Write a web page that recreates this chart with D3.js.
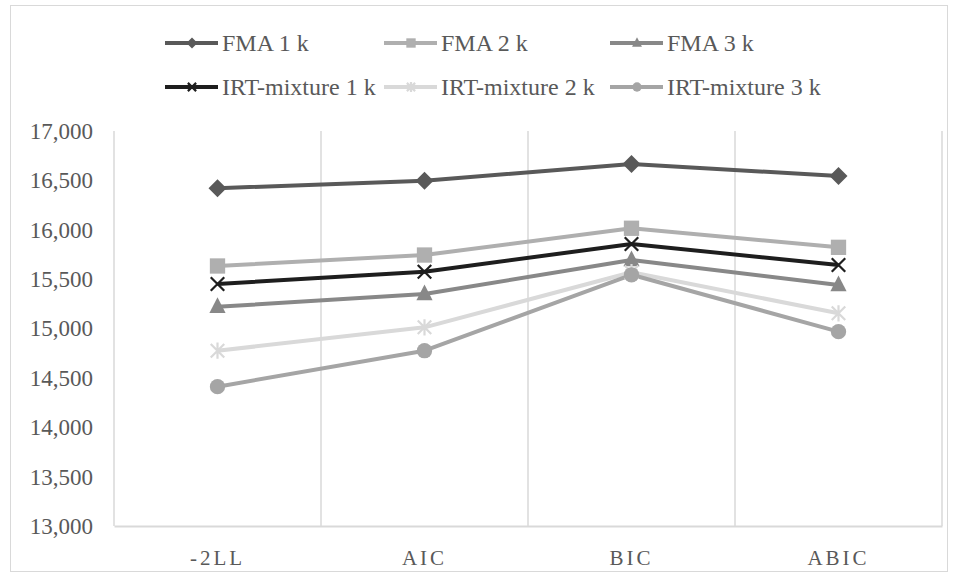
<!DOCTYPE html>
<html><head><meta charset="utf-8">
<script src="https://cdn.jsdelivr.net/npm/d3@7"></script>
<style>body{margin:0;background:#fff}</style>
</head><body>
<svg id="c" width="958" height="577"></svg>
<script>
const categories = ["-2LL","AIC","BIC","ABIC"];
const seriesNames = ["FMA 1 k","FMA 2 k","FMA 3 k","IRT-mixture 1 k","IRT-mixture 2 k","IRT-mixture 3 k"];
const fma1 = [16420,16497,16666,16544];
const fma2 = [15633,15744,16015,15822];
const fma3 = [15220,15349,15694,15440];
const irt1 = [15451,15575,15856,15643];
const irt2 = [14775,15012,15570,15154];
const irt3 = [14411,14775,15544,14968];
const yTicks = [13000,13500,14000,14500,15000,15500,16000,16500,17000];

const series = [
  {name:seriesNames[0], values:fma1, color:"#595959", marker:"diamond"},
  {name:seriesNames[1], values:fma2, color:"#afafaf", marker:"square"},
  {name:seriesNames[2], values:fma3, color:"#888888", marker:"triangle"},
  {name:seriesNames[3], values:irt1, color:"#1e1e1e", marker:"x"},
  {name:seriesNames[4], values:irt2, color:"#d9d9d9", marker:"star"},
  {name:seriesNames[5], values:irt3, color:"#a5a5a5", marker:"circle"}
];

const FONT = '"Liberation Serif"';
const svg = d3.select("#c");
svg.append("rect").attr("x",10.5).attr("y",5.5).attr("width",937).attr("height",566)
  .attr("fill","#fff").attr("stroke","#d9d9d9").attr("stroke-width",1);

const L=114, R=942, T=131, B=526;
const x = d3.scaleBand().domain(categories).range([L,R]);
const y = d3.scaleLinear().domain([13000,17000]).range([B,T]);

const bounds = categories.map(c=>x(c)).concat([R]);
svg.append("g").selectAll("line").data(bounds).join("line")
  .attr("x1",d=>d).attr("x2",d=>d).attr("y1",T).attr("y2",B)
  .attr("stroke","#d9d9d9").attr("stroke-width",1.5);

const xAxis = svg.append("g").attr("transform",`translate(0,${B})`)
  .call(d3.axisBottom(x).tickSize(0).tickPadding(0));
xAxis.select(".domain").attr("stroke","#d9d9d9").attr("stroke-width",2);
xAxis.selectAll("text").attr("y",24).style("font-family",FONT).style("font-size","21px")
  .style("letter-spacing","3px").attr("fill","#595959");

const yAxis = svg.append("g").attr("transform",`translate(${L},0)`)
  .call(d3.axisLeft(y).tickValues(yTicks).tickSize(0).tickPadding(21).tickFormat(d3.format(",")));
yAxis.select(".domain").remove();
yAxis.selectAll("text").style("font-family",FONT).style("font-size","23px").attr("fill","#595959");

function drawMarker(g, type, color, s){
  if(type==="diamond"){
    g.append("path").attr("d",`M0,${-s}L${s},0L0,${s}L${-s},0Z`).attr("fill",color);
  } else if(type==="square"){
    g.append("rect").attr("x",-s*0.85).attr("y",-s*0.85).attr("width",s*1.7).attr("height",s*1.7).attr("fill",color);
  } else if(type==="triangle"){
    g.append("path").attr("d",`M0,${-s*1.05}L${s*0.9},${s*0.7}L${-s*0.9},${s*0.7}Z`).attr("fill",color);
  } else if(type==="circle"){
    g.append("circle").attr("r",s*0.85).attr("fill",color);
  } else if(type==="x"){
    const k=s*0.75;
    g.append("path").attr("d",`M${-k},${-k}L${k},${k}M${-k},${k}L${k},${-k}`)
      .attr("stroke",color).attr("stroke-width",2.2).attr("fill","none");
  } else if(type==="star"){
    const k=s*0.75;
    g.append("path").attr("d",`M${-k},${-k}L${k},${k}M${-k},${k}L${k},${-k}M0,${-k*1.2}L0,${k*1.2}`)
      .attr("stroke",color).attr("stroke-width",2.2).attr("fill","none");
  }
}

const line = d3.line().x((d,i)=>x(categories[i])+x.bandwidth()/2).y(d=>y(d));
series.forEach(s=>{
  svg.append("path").datum(s.values).attr("d",line).attr("fill","none")
    .attr("stroke",s.color).attr("stroke-width",4).attr("stroke-linejoin","round");
});
series.forEach(s=>{
  s.values.forEach((v,i)=>{
    const g = svg.append("g").attr("transform",`translate(${x(categories[i])+x.bandwidth()/2},${y(v)})`);
    drawMarker(g, s.marker, s.color, 9);
  });
});

const legX = [165,384,610], legY=[43,87];
series.forEach((s,i)=>{
  const lx = legX[i%3], ly = legY[Math.floor(i/3)];
  const g = svg.append("g").attr("transform",`translate(${lx},${ly})`);
  g.append("line").attr("x1",0).attr("x2",53).attr("y1",0).attr("y2",0)
    .attr("stroke",s.color).attr("stroke-width",4);
  const m = g.append("g").attr("transform","translate(27,0)");
  drawMarker(m, s.marker, s.color, 5.5);
  g.append("text").attr("x",57).attr("y",8).style("font-family",FONT).style("font-size","24px")
    .attr("fill","#595959").text(s.name);
});
</script>
</body></html>
